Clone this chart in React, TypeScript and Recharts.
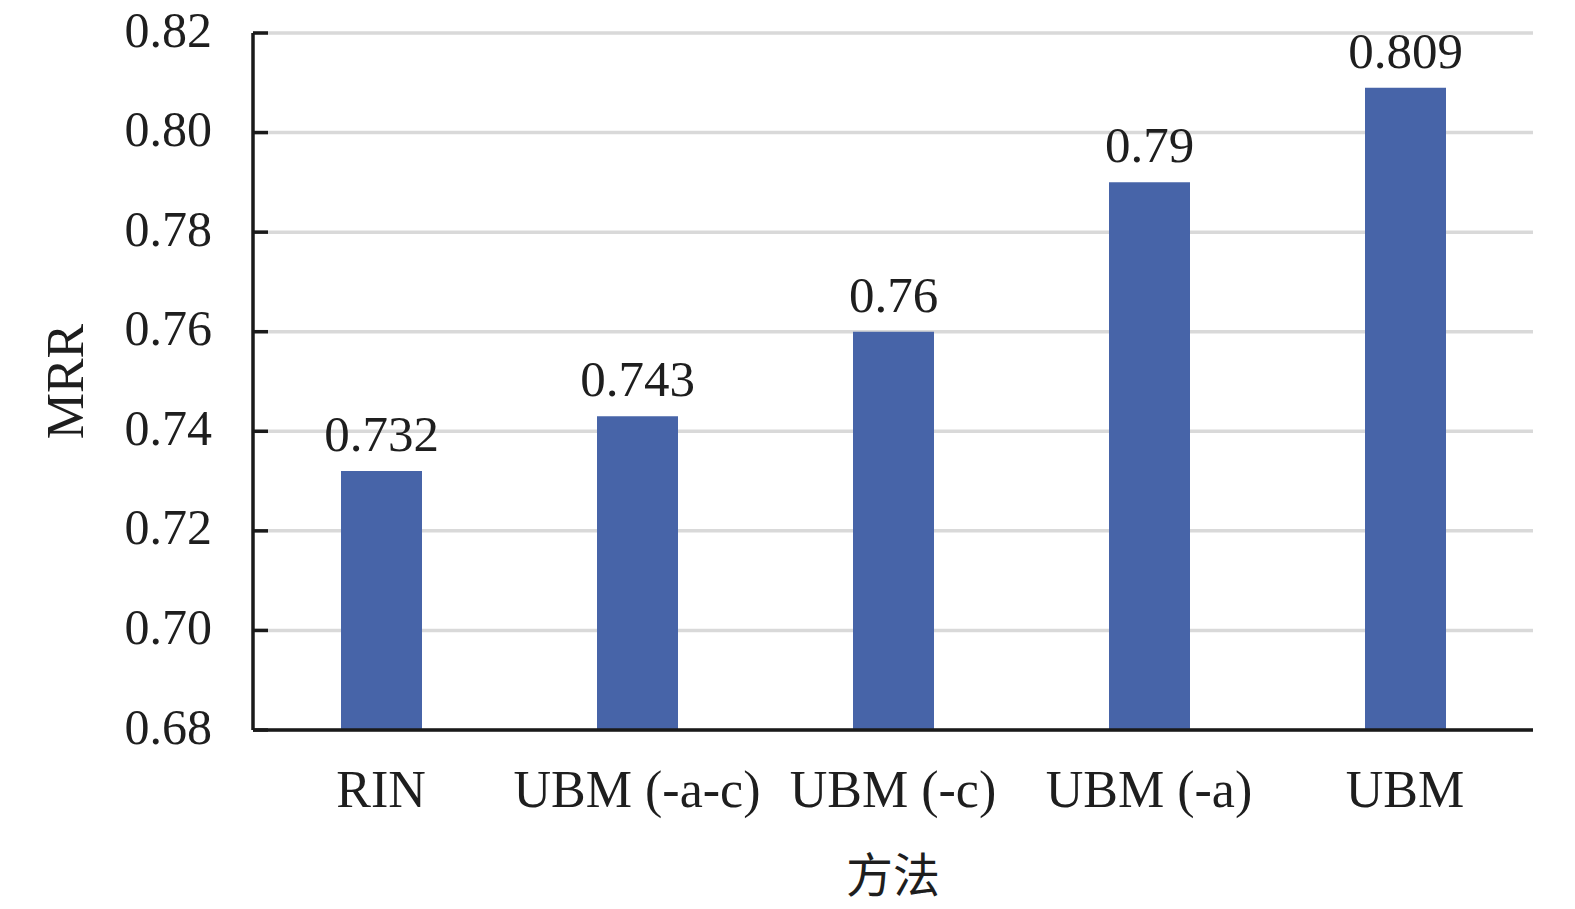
import React from 'react';
import { BarChart, Bar, XAxis, YAxis, CartesianGrid, LabelList, Label } from 'recharts';

const categories = ['RIN', 'UBM (-a-c)', 'UBM (-c)', 'UBM (-a)', 'UBM'];
const mrrValues = [0.732, 0.743, 0.76, 0.79, 0.809];
const yTicks = [0.68, 0.7, 0.72, 0.74, 0.76, 0.78, 0.8, 0.82];
const xTitle = '方法';
const yTitle = 'MRR';

const data = categories.map((name, i) => ({ name, value: mrrValues[i] }));

const SERIF = "'Liberation Serif', 'Times New Roman', 'Noto Sans CJK SC', serif";
const TEXT = '#1e1e1e';
const TICK_MARGIN = 41;

const YTick = (props: any) => {
  const { x, y, payload } = props;
  const axisX = x + TICK_MARGIN;
  return (
    <g>
      <line x1={axisX} y1={y} x2={axisX + 15} y2={y} stroke="#1a1a1a" strokeWidth={3.5} />
      <text x={x} y={y} dy={13.5} textAnchor="end" fontFamily={SERIF} fontSize={50} fill={TEXT}>
        {Number(payload.value).toFixed(2)}
      </text>
    </g>
  );
};

export default function App() {
  return (
    <div style={{ position: 'absolute', left: 0, top: 0, width: 1575, height: 909, background: '#fff' }}>
      <BarChart
        width={1575}
        height={909}
        data={data}
        margin={{ top: 33, right: 42, bottom: 0, left: 0 }}
      >
        <CartesianGrid horizontal vertical={false} stroke="#d9d9d9" strokeWidth={3.5} />
        <XAxis
          dataKey="name"
          height={179}
          interval={0}
          tickLine={false}
          tickSize={0}
          tickMargin={40}
          axisLine={{ stroke: '#1a1a1a', strokeWidth: 3.5 }}
          tick={{ fontFamily: SERIF, fontSize: 52, fill: TEXT }}
        >
          <Label
            value={xTitle}
            position="insideBottom"
            offset={17}
            style={{ fontFamily: "'Noto Sans CJK SC', sans-serif", fontSize: 47, fill: TEXT }}
          />
        </XAxis>
        <YAxis
          width={253}
          domain={[0.68, 0.82]}
          ticks={yTicks}
          tickLine={false}
          tickSize={0}
          tickMargin={TICK_MARGIN}
          axisLine={{ stroke: '#1a1a1a', strokeWidth: 3.5 }}
          tick={<YTick />}
        >
          <Label
            value={yTitle}
            angle={-90}
            position="insideLeft"
            offset={65}
            style={{ textAnchor: 'middle', fontFamily: SERIF, fontSize: 52, fill: TEXT }}
          />
        </YAxis>
        <Bar dataKey="value" fill="#4764a8" barSize={81} isAnimationActive={false}>
          <LabelList
            dataKey="value"
            position="top"
            offset={20}
            style={{ fontFamily: SERIF, fontSize: 51, fill: TEXT }}
          />
        </Bar>
      </BarChart>
    </div>
  );
}
